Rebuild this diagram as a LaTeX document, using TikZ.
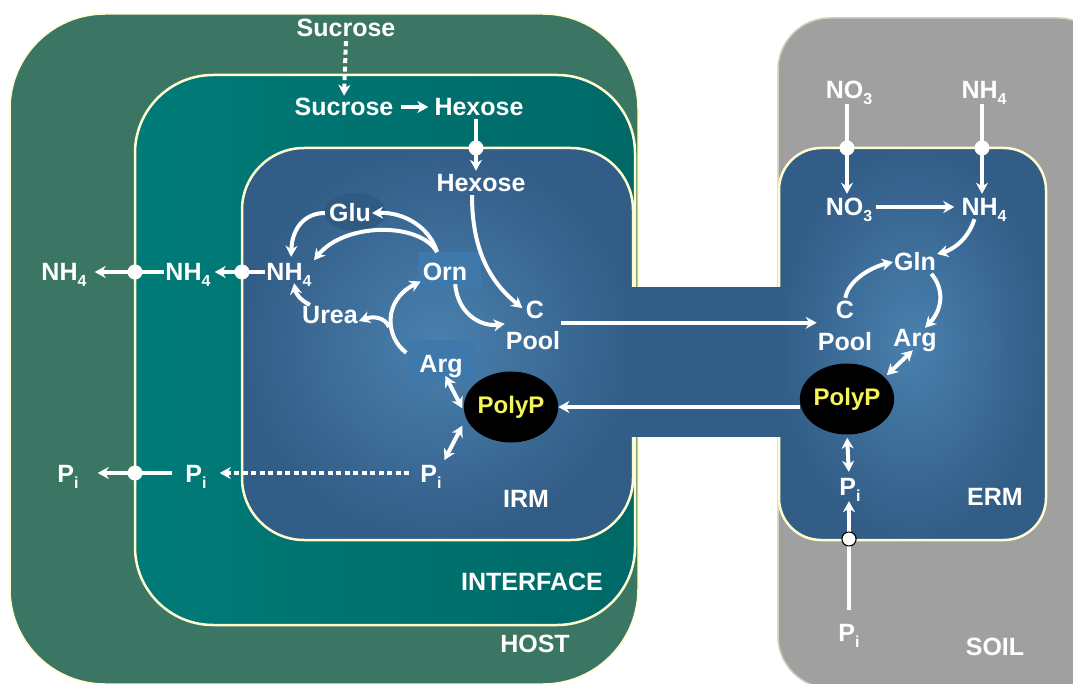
\documentclass[tikz,border=0pt]{standalone}
\usepackage{fontspec}
\setmainfont{Liberation Sans}
\usetikzlibrary{arrows.meta,shapes.geometric}
\definecolor{hostc}{HTML}{3B7664}
\definecolor{intA}{HTML}{007B78}
\definecolor{intB}{HTML}{006967}
\definecolor{hyin}{HTML}{4A80AE}
\definecolor{hyout}{HTML}{325D87}
\definecolor{soilc}{HTML}{A0A0A0}
\definecolor{cream}{HTML}{FFFDD0}
\definecolor{polyy}{HTML}{F5F55A}
\definecolor{hlc}{HTML}{3F78AA}
\definecolor{gluc}{HTML}{2F5A82}
\newcommand\sbs[1]{\raisebox{-6pt}[0pt][0pt]{\fontsize{16}{16}\selectfont #1}}
\begin{document}
\begin{tikzpicture}[x=1pt,y=-1pt,
  >={Stealth[length=11pt,width=12pt,inset=3.5pt]},
  lab/.style={text=white,font=\bfseries\fontsize{25}{27}\selectfont,inner sep=1pt,text height=18pt,text depth=0pt},
  ln/.style={white,line width=4pt},
  arr/.style={white,line width=4pt,->},
  darr/.style={white,line width=4pt,<->},
  dotarr/.style={white,line width=4pt,dash pattern=on 5pt off 3.5pt,->},
  wdot/.style={circle,fill=white,minimum size=15pt,inner sep=0pt},
  bdot/.style={circle,fill=white,draw=black,line width=1pt,minimum size=14pt,inner sep=0pt},
  poly/.style={ellipse,fill=black,minimum width=76pt,minimum height=71pt,inner sep=0pt,text=polyy,font=\bfseries\fontsize{24}{26}\selectfont},
  cell/.style={draw=cream,line width=2.5pt}]
\clip (0,0) rectangle (1073,684);
\fill[white] (0,0) rectangle (1073,684);
% soil
\draw[fill=soilc,draw=cream!50!soilc,line width=1.5pt,rounded corners=52] (778,18) rectangle (1110,688);
% host
\draw[fill=hostc,draw=cream,line width=1.5pt,rounded corners=95] (10,14) rectangle (638,684);
% interface
\draw[left color=intA,right color=intB,draw=cream,line width=2.5pt,rounded corners=78] (135,75) rectangle (635,625);
% hypha fills
\shade[inner color=hyin,outer color=hyout,rounded corners=62] (242,148) rectangle (633,540);
\shade[inner color=hyin,outer color=hyout,rounded corners=42] (779,148) rectangle (1046,540);
\fill[hyout] (626,287) rectangle (786,437);
\draw[cell,rounded corners=62] (633,287) -- (633,148) -- (242,148) -- (242,540) -- (633,540) -- (633,437);
\draw[cell,rounded corners=42] (779,287) -- (779,148) -- (1046,148) -- (1046,540) -- (779,540) -- (779,437);
% highlights
\fill[hlc] (418,252) rectangle (481,290);
\fill[hlc] (407,340) rectangle (475,382);
\fill[gluc] (355,212) ellipse [x radius=31, y radius=19];

% ---------- nodes ----------
\node[lab] (suc0) at (346,28) {Sucrose};
\node[lab] (suc1) at (344,107) {Sucrose};
\node[lab] (hex1) at (479,107) {Hexose};
\node[wdot] (d1) at (476,148) {};
\node[lab] (hex2) at (481,183) {Hexose};
\node[lab] (glu) at (350,213) {Glu};
\node[lab] (orn) at (445,272) {Orn};
\node[lab] (urea) at (330,315) {Urea};
\node[lab] (arg) at (441,363) {Arg};
\node[lab] (cL) at (535,310) {C};
\node[lab] (poolL) at (533,340) {Pool};
\node[poly] (polyL) at (511,407) {PolyP};
\node[lab] (nh4i) at (289,272) {NH\sbs{4}};
\node[wdot] (d3) at (242,272) {};
\node[lab] (nh4b) at (188,272) {NH\sbs{4}};
\node[wdot] (d2) at (135,272) {};
\node[lab] (nh4a) at (64,272) {NH\sbs{4}};
\node[lab] (pii) at (431,473) {P\sbs{i}};
\node[lab] (pib) at (196,473) {P\sbs{i}};
\node[wdot] (d4) at (135,473) {};
\node[lab] (pia) at (68,473) {P\sbs{i}};
\node[lab] (irm) at (526,498) {IRM};
\node[lab] (intf) at (532,581) {INTERFACE};
\node[lab] (host) at (535,643) {HOST};

\node[lab] (no3a) at (849,90) {NO\sbs{3}};
\node[lab] (nh4ra) at (984,90) {NH\sbs{4}};
\node[wdot] (dr1) at (847,148) {};
\node[wdot] (dr2) at (982,148) {};
\node[lab] (no3b) at (849,207) {NO\sbs{3}};
\node[lab] (nh4rb) at (984,207) {NH\sbs{4}};
\node[lab] (gln) at (915,262) {Gln};
\node[lab] (cR) at (845,310) {C};
\node[lab] (poolR) at (845,341) {Pool};
\node[lab] (argR) at (915,338) {Arg};
\node[poly] (polyR) at (847,399) {PolyP};
\node[lab] (piR) at (850,486) {P\sbs{i}};
\node[bdot] (dr3) at (849,539) {};
\node[lab] (piS) at (849,632) {P\sbs{i}};
\node[lab] (erm) at (995,496) {ERM};
\node[lab] (soil) at (995,646) {SOIL};
\coordinate (ornTop) at (437,252);
\coordinate (br) at (389,327);

% ---------- connectors (left) ----------
\draw[dotarr,shorten <=3pt,shorten >=1pt] (suc0.south) -- (suc1.north);
\draw[arr,shorten <=6pt,shorten >=5pt] (suc1.east) -- (hex1.west);
\draw[ln,shorten <=2pt] (hex1.south -| d1) -- (d1.center);
\draw[arr,shorten >=2pt] (d1.center) -- (hex2.north -| d1);
\draw[arr,shorten <=2pt,shorten >=3pt] ([xshift=-9pt]hex2.south) .. controls (472,250) and (490,282) .. (cL.west);
\draw[arr] (ornTop) .. controls (430,228) and (405,212) .. (glu.east);
\draw[arr,shorten >=2pt] (ornTop) .. controls (420,222) and (345,222) .. (nh4i.north east);
\draw[arr,shorten <=3pt,shorten >=5pt] (glu.west) .. controls (305,213) and (292,228) .. ([xshift=2pt]nh4i.north);
\draw[arr,shorten >=1pt] ([xshift=-20pt]urea.north) .. controls (300,300) and (296,294) .. ([xshift=5pt]nh4i.south);
\draw[arr,shorten >=1pt] ([xshift=-12pt]arg.north west) .. controls (385,337) and (383,300) .. ([yshift=-9pt]orn.west);
\draw[arr] (br) .. controls (385,317) and (373,316) .. ([yshift=-6pt]urea.east);
\draw[arr,shorten <=2pt] ([xshift=10pt]orn.south) .. controls (458,315) and (482,327) .. ([yshift=6pt]poolL.north west);
\draw[darr,shorten <=3pt,shorten >=3pt] ([xshift=3pt]arg.south) -- ([yshift=-4pt]polyL.west);
\draw[darr,shorten <=3pt,shorten >=3pt] ([xshift=12pt]pii.north) -- ([yshift=-16pt]polyL.west);
\draw[ln] (nh4i.west) -- (d3.center);
\draw[arr,shorten >=3pt] (d3.center) -- (nh4b.east);
\draw[ln] (nh4b.west) -- (d2.center);
\draw[arr,shorten >=7pt] (d2.center) -- (nh4a.east);
\draw[dotarr,shorten <=10pt,shorten >=12pt] (pii.west) -- (pib.east);
\draw[ln,shorten <=12pt] (pib.west) -- (d4.center);
\draw[arr,shorten >=18pt] (d4.center) -- (pia.east);
\draw[arr] ([yshift=7pt]poolL.north east) -- ([yshift=8pt]poolR.north west);
\draw[arr] (polyR.west |- polyL.east) -- (polyL.east);

% ---------- connectors (right) ----------
\draw[ln,shorten <=4pt] (no3a.south -| dr1) -- (dr1.center);
\draw[arr,shorten >=3pt] (dr1.center) -- (no3b.north -| dr1);
\draw[ln,shorten <=4pt] (nh4ra.south -| dr2) -- (dr2.center);
\draw[arr,shorten >=3pt] (dr2.center) -- (nh4rb.north -| dr2);
\draw[arr,shorten <=3pt,shorten >=6pt] (no3b.east) -- (nh4rb.west);
\draw[arr,shorten <=2pt] ([xshift=-9pt]nh4rb.south) .. controls (968,240) and (952,250) .. ([yshift=8pt]gln.east);
\draw[arr,shorten <=2pt] (cR.north) .. controls (848,282) and (868,268) .. (gln.west);
\draw[arr,shorten <=2pt] ([xshift=15pt]gln.south) .. controls (945,290) and (942,310) .. ([xshift=10pt]argR.north);
\draw[darr,shorten <=3pt,shorten >=3pt] (argR.south) -- (polyR.30);
\draw[darr,shorten <=3pt,shorten >=4pt] (polyR.south) -- (piR.north -| dr3);
\draw[ln,shorten <=12pt] (piS.north -| dr3) -- (dr3.center);
\draw[arr,shorten >=5pt] (dr3.center) -- (piR.south -| dr3);
\node[bdot] at (dr3) {};
\end{tikzpicture}
\end{document}
